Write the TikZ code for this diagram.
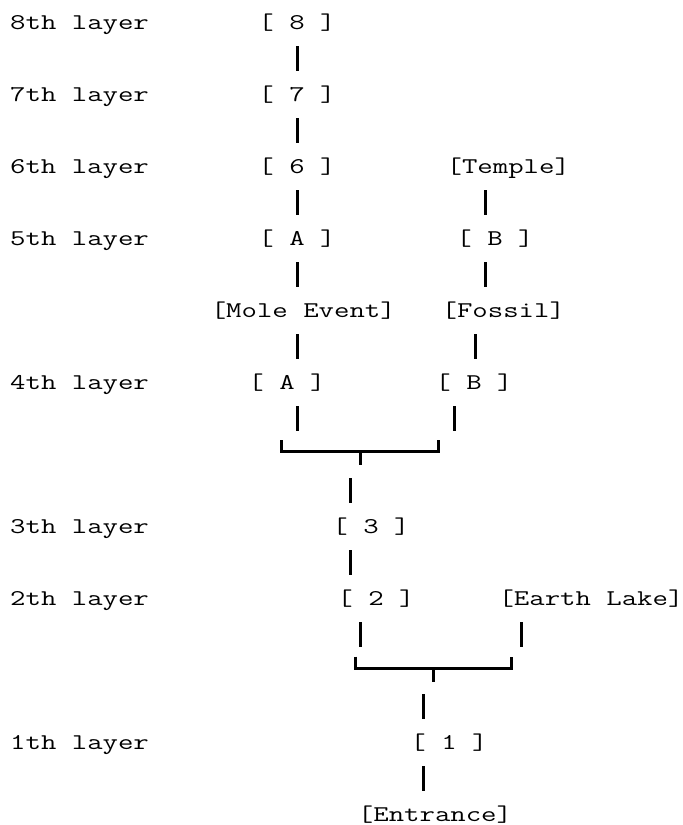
\documentclass[tikz,border=0pt]{standalone}
\usepackage{graphicx}
% typewriter text, widened to the cell width of the layout
\newcommand\stretchtext[1]{\scalebox{1.33}[1]{#1}}
\tikzset{
  txt/.style={inner sep=0pt, font=\fontsize{22.5}{27}\fontseries{l}\selectfont\ttfamily},
  room/.style={txt, anchor=base},
  layer/.style={txt, anchor=base west},
  bar/.style={line width=3pt, black, line cap=butt},
  bracket/.style={line width=3pt, black, line join=miter},
}
% row n sits at 22.5 + 36 n (downwards)
\newcommand\rowy[1]{22.5+36*#1}
\newcommand\vbar[2]{\draw[bar] (#1,{\rowy{#2}-12.5}) -- (#1,{\rowy{#2}+12.5});}
\begin{document}
\begin{tikzpicture}[x=1pt,y=-1pt]
  \useasboundingbox (0,0) rectangle (683,825);

  % layer labels
  \node[layer] (l8) at (10,{\rowy{0}+6.5})  {\stretchtext{8th layer}};
  \node[layer] (l7) at (10,{\rowy{2}+6.5})  {\stretchtext{7th layer}};
  \node[layer] (l6) at (10,{\rowy{4}+6.5})  {\stretchtext{6th layer}};
  \node[layer] (l5) at (10,{\rowy{6}+6.5})  {\stretchtext{5th layer}};
  \node[layer] (l4) at (10,{\rowy{10}+6.5}) {\stretchtext{4th layer}};
  \node[layer] (l3) at (10,{\rowy{14}+6.5}) {\stretchtext{3th layer}};
  \node[layer] (l2) at (10,{\rowy{16}+6.5}) {\stretchtext{2th layer}};
  \node[layer] (l1) at (10,{\rowy{20}+6.5}) {\stretchtext{1th layer}};

  % rooms
  \node[room] (r8)     at (297,{\rowy{0}+6.5})    {\stretchtext{[ 8 ]}};
  \node[room] (r7)     at (297,{\rowy{2}+6.5})    {\stretchtext{[ 7 ]}};
  \node[room] (r6)     at (297,{\rowy{4}+6.5})    {\stretchtext{[ 6 ]}};
  \node[room] (temple) at (508.3,{\rowy{4}+6.5})  {\stretchtext{[Temple]}};
  \node[room] (a5)     at (297,{\rowy{6}+6.5})    {\stretchtext{[ A ]}};
  \node[room] (b5)     at (495,{\rowy{6}+6.5})    {\stretchtext{[ B ]}};
  \node[room] (mole)   at (303.3,{\rowy{8}+6.5})  {\stretchtext{[Mole Event]}};
  \node[room] (fossil) at (503.3,{\rowy{8}+6.5})  {\stretchtext{[Fossil]}};
  \node[room] (a4)     at (287,{\rowy{10}+6.5})   {\stretchtext{[ A ]}};
  \node[room] (b4)     at (474,{\rowy{10}+6.5})   {\stretchtext{[ B ]}};
  \node[room] (r3)     at (371,{\rowy{14}+6.5})   {\stretchtext{[ 3 ]}};
  \node[room] (r2)     at (376,{\rowy{16}+6.5})   {\stretchtext{[ 2 ]}};
  \node[room] (lake)   at (591,{\rowy{16}+6.5})   {\stretchtext{[Earth Lake]}};
  \node[room] (r1)     at (449,{\rowy{20}+6.5})   {\stretchtext{[ 1 ]}};
  \node[room] (entr)   at (435,{\rowy{22}+6.5})   {\stretchtext{[Entrance]}};

  % vertical links between rows
  \vbar{297}{1}
  \vbar{297}{3}
  \vbar{297}{5}   \vbar{485}{5}
  \vbar{297.7}{7} \vbar{485}{7}
  \vbar{297.7}{9} \vbar{475}{9}
  \vbar{297.7}{11} \vbar{454}{11}
  \vbar{350}{13}
  \vbar{350}{15}
  \vbar{360}{17}  \vbar{521}{17}
  \vbar{423}{19}
  \vbar{423}{21}

  % junction joining the two 4th-layer branches
  \draw[bracket] (281.7,440) -- (281.7,451.7) -- (438.3,451.7) -- (438.3,440);
  \draw[bar] (360,451.7) -- (360,465);

  % junction joining 2 and Earth Lake
  \draw[bracket] (355,656.7) -- (355,668.3) -- (511,668.3) -- (511,656.7);
  \draw[bar] (433.3,668.3) -- (433.3,681.7);
\end{tikzpicture}
\end{document}
